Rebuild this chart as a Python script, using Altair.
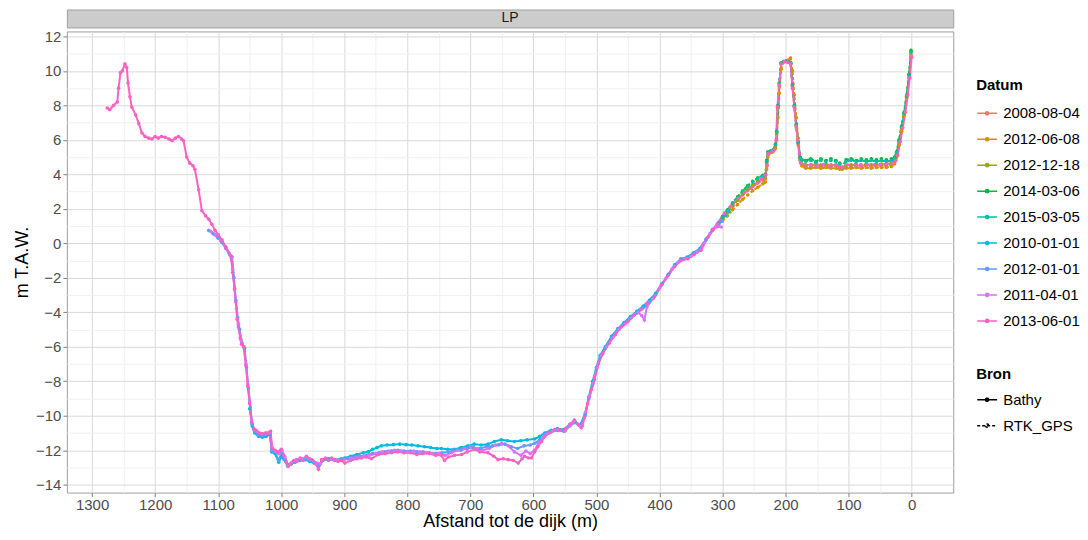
import altair as alt
import pandas as pd

PANEL = ["LP"]
DATES = ["2008-08-04", "2012-06-08", "2012-12-18", "2014-03-06", "2015-03-05",
         "2010-01-01", "2012-01-01", "2011-04-01", "2013-06-01"]
COLORS = ["#F8766D", "#D39200", "#93AA00", "#00BA38", "#00C19F",
          "#00B9E3", "#619CFF", "#DB72FB", "#FF61C3"]
SOURCES = ["Bathy", "RTK_GPS"]

# RTK_GPS surveys (dune / beach part)
RTK_D = [300, 292, 284, 276, 268, 260, 252, 244, 236, 232,
         230, 228, 224, 220, 216, 214, 212, 210, 207, 203,
         199, 195, 192, 189, 186, 183, 180, 177, 174, 168,
         160, 152, 144, 136, 128, 120, 114, 110, 104, 96,
         88, 80, 72, 64, 56, 48, 40, 32, 27, 24,
         20, 16, 12, 8, 4, 1]
V_2008_08_04 = [1.5, 1.85, 2.2, 2.5, 2.8, 3.05, 3.3, 3.5, 3.65, 3.75,
                4.6, 5.2, 5.3, 5.35, 5.6, 6.3, 7.8, 9.1, 10.4, 10.55,
                10.55, 10.5, 10.45, 9.1, 7.9, 6.7, 5.7, 4.8, 4.5, 4.45,
                4.45, 4.5, 4.45, 4.5, 4.45, 4.45, 4.4, 4.35, 4.4, 4.45,
                4.5, 4.45, 4.5, 4.45, 4.5, 4.5, 4.5, 4.55, 4.7, 5.1,
                5.8, 6.6, 7.4, 8.4, 9.6, 10.9]
V_2012_06_08 = [1.3, 1.6, 1.95, 2.25, 2.55, 2.8, 3.05, 3.25, 3.45, 3.55,
                4.3, 5.0, 5.25, 5.3, 5.5, 6.0, 7.3, 8.7, 10.1, 10.5,
                10.6, 10.65, 10.75, 10.0, 8.6, 7.3, 6.1, 5.0, 4.5, 4.35,
                4.35, 4.4, 4.35, 4.4, 4.35, 4.35, 4.3, 4.3, 4.35, 4.35,
                4.4, 4.35, 4.4, 4.35, 4.4, 4.4, 4.4, 4.45, 4.6, 5.0,
                5.7, 6.5, 7.4, 8.5, 9.8, 11.0]
V_2012_12_18 = [1.45, 1.8, 2.15, 2.5, 2.85, 3.15, 3.4, 3.6, 3.75, 3.85,
                4.7, 5.25, 5.3, 5.4, 5.7, 6.4, 7.9, 9.2, 10.45, 10.55,
                10.55, 10.5, 10.5, 9.2, 8.0, 6.8, 5.8, 4.9, 4.6, 4.55,
                4.55, 4.6, 4.55, 4.6, 4.55, 4.55, 4.5, 4.4, 4.5, 4.55,
                4.6, 4.55, 4.6, 4.55, 4.6, 4.6, 4.6, 4.65, 4.8, 5.2,
                5.9, 6.7, 7.5, 8.5, 9.7, 11.1]
V_2014_03_06 = [1.55, 1.95, 2.35, 2.7, 3.05, 3.35, 3.6, 3.8, 3.95, 4.0,
                4.8, 5.3, 5.35, 5.4, 5.75, 6.5, 8.0, 9.3, 10.45, 10.55,
                10.55, 10.5, 10.45, 9.2, 8.0, 6.9, 5.9, 5.0, 4.85, 4.8,
                4.9, 4.75, 4.9, 4.8, 4.9, 4.8, 4.65, 4.4, 4.85, 4.9,
                4.8, 4.9, 4.85, 4.9, 4.85, 4.9, 4.85, 4.9, 5.0, 5.3,
                6.0, 6.8, 7.6, 8.6, 9.8, 11.2]
V_2015_03_05 = [1.5, 1.9, 2.3, 2.65, 3.0, 3.3, 3.55, 3.75, 3.9, 3.95,
                4.75, 5.3, 5.35, 5.4, 5.7, 6.45, 7.95, 9.25, 10.45, 10.55,
                10.55, 10.5, 10.45, 9.15, 7.95, 6.85, 5.85, 4.95, 4.8, 4.75,
                4.8, 4.7, 4.8, 4.75, 4.8, 4.75, 4.6, 4.4, 4.75, 4.8,
                4.75, 4.8, 4.75, 4.8, 4.75, 4.8, 4.75, 4.8, 4.95, 5.25,
                5.95, 6.75, 7.55, 8.55, 9.75, 11.1]

# Bathymetry surveys
D_2010_01_01 = [1050, 1046, 1042, 1036, 1030, 1024, 1018, 1015, 1010, 1004, 1000, 995, 990, 984,
                978, 970, 962, 955, 948, 940, 934, 925, 915, 905, 899, 890, 880, 870, 862, 855,
                848, 841, 832, 822, 812, 802, 793, 783, 773, 763, 753, 746, 736, 725, 715, 704,
                694, 683, 672, 662, 651, 641, 630, 620, 610, 598, 590, 582, 572, 562, 552, 542,
                534, 526, 518, 512, 506, 500, 494, 486, 476, 466, 456, 446, 436, 426, 416, 406,
                396, 386, 376, 366, 356, 346, 336, 326, 316, 306, 296, 290]
V_2010_01_01 = [-9.6, -10.6, -11.0, -11.2, -11.25, -11.2, -11.1, -12.1, -12.2, -12.7, -12.4, -12.55, -12.9, -12.8,
                -12.7, -12.6, -12.55, -12.65, -12.75, -12.85, -12.55, -12.5, -12.55, -12.5, -12.45, -12.35, -12.25, -12.15, -12.1, -11.95,
                -11.85, -11.75, -11.7, -11.68, -11.65, -11.68, -11.7, -11.75, -11.8, -11.85, -11.9, -11.9, -11.95, -11.95, -11.85, -11.75,
                -11.65, -11.7, -11.65, -11.5, -11.4, -11.45, -11.5, -11.45, -11.4, -11.35, -11.2, -11.0, -10.85, -10.75, -10.8, -10.5,
                -10.35, -10.55, -9.9, -8.9, -8.0, -7.2, -6.5, -6.0, -5.4, -4.95, -4.6, -4.25, -3.95, -3.65, -3.3, -2.9,
                -2.35, -1.8, -1.25, -0.9, -0.8, -0.55, -0.3, 0.25, 0.8, 1.2, 1.6, 1.85]

D_2012_01_01 = [1115, 1108, 1100, 1094, 1088, 1082, 1078, 1075, 1072, 1069, 1066, 1062, 1058, 1055,
                1052, 1049, 1046, 1042, 1036, 1030, 1024, 1018, 1015, 1010, 1004, 1000, 995, 990,
                984, 978, 970, 962, 955, 948, 940, 934, 925, 915, 905, 895, 885, 875, 865, 855,
                845, 835, 825, 815, 805, 795, 785, 775, 765, 755, 745, 735, 725, 715, 705, 695,
                685, 675, 665, 655, 645, 635, 625, 615, 605, 598, 590, 582, 572, 562, 552, 542,
                534, 526, 518, 512, 506, 500, 494, 486, 476, 466, 456, 446, 436, 426, 416, 406,
                396, 386, 376, 366, 356, 346, 336, 326, 316, 306, 300]
V_2012_01_01 = [0.75, 0.55, 0.3, 0.05, -0.3, -0.65, -0.8, -2.0, -3.3, -4.3, -5.0, -5.8, -6.1, -7.2,
                -8.4, -9.5, -10.5, -10.9, -11.1, -11.15, -11.1, -11.05, -12.0, -12.1, -12.6, -12.2, -12.5, -12.85,
                -12.75, -12.65, -12.55, -12.5, -12.6, -12.7, -12.9, -12.6, -12.55, -12.6, -12.55, -12.5, -12.4, -12.35, -12.3, -12.2,
                -12.15, -12.1, -12.05, -12.0, -12.05, -12.05, -12.1, -12.1, -12.15, -12.2, -12.15, -12.1, -12.0, -12.0, -11.9, -11.85,
                -11.9, -11.8, -11.75, -11.7, -11.65, -11.8, -11.9, -11.75, -11.7, -11.6, -11.4, -11.1, -10.95, -10.85, -10.9, -10.6,
                -10.4, -10.6, -10.0, -9.0, -8.2, -7.3, -6.6, -6.1, -5.5, -5.0, -4.7, -4.35, -4.05, -3.75, -3.4, -3.0,
                -2.4, -1.85, -1.3, -0.95, -0.85, -0.6, -0.35, 0.2, 0.75, 1.1, 1.3]

D_2011_04_01 = [1112, 1104, 1096, 1088, 1081, 1077, 1074, 1071, 1068, 1064, 1060, 1056, 1053, 1050,
                1047, 1043, 1037, 1030, 1024, 1018, 1015, 1010, 1004, 999, 994, 989, 983, 976,
                968, 960, 952, 944, 938, 930, 920, 910, 900, 890, 880, 870, 860, 850, 840, 830,
                820, 810, 800, 790, 780, 770, 760, 750, 740, 730, 720, 710, 700, 690, 680, 670,
                660, 650, 640, 630, 620, 612, 605, 598, 592, 585, 578, 570, 560, 550, 542, 535,
                528, 522, 517, 511, 505, 499, 492, 484, 474, 464, 454, 444, 434, 428, 424, 420,
                410, 400, 390, 380, 370, 360, 350, 340, 330, 320, 310, 302]
V_2011_04_01 = [0.7, 0.5, 0.15, -0.25, -0.7, -1.5, -2.7, -3.8, -4.7, -5.6, -6.0, -7.0, -8.2, -9.2,
                -10.3, -10.8, -10.95, -11.05, -11.0, -10.95, -11.85, -12.05, -12.2, -12.0, -12.4, -12.9, -12.7, -12.55,
                -12.5, -12.4, -12.55, -12.75, -12.8, -12.45, -12.5, -12.6, -12.55, -12.45, -12.4, -12.35, -12.3, -12.2, -12.1, -12.05,
                -12.0, -12.05, -12.1, -12.05, -12.1, -12.15, -12.2, -12.2, -12.3, -12.15, -12.0, -11.9, -11.8, -11.9, -12.0, -11.9,
                -11.7, -11.6, -11.75, -12.1, -12.3, -12.05, -12.2, -12.0, -11.6, -11.3, -11.05, -10.9, -10.8, -10.9, -10.55, -10.3,
                -10.55, -10.6, -9.8, -8.9, -8.1, -7.2, -6.5, -6.0, -5.45, -5.0, -4.65, -4.3, -4.0, -4.2, -4.45, -3.7,
                -3.2, -2.6, -2.05, -1.5, -1.1, -0.9, -0.75, -0.5, 0.0, 0.55, 0.95, 0.95]

D_2013_06_01 = [1276, 1272, 1266, 1260, 1258, 1255, 1252, 1248, 1245, 1243, 1240, 1237, 1231, 1226,
                1221, 1216, 1210, 1205, 1200, 1195, 1190, 1184, 1178, 1173, 1168, 1163, 1158, 1155,
                1150, 1145, 1140, 1137, 1131, 1126, 1120, 1115, 1110, 1105, 1100, 1094, 1088, 1083,
                1079, 1077, 1074, 1072, 1070, 1068, 1065, 1063, 1059, 1056, 1053, 1050, 1047, 1044,
                1040, 1035, 1030, 1025, 1020, 1017, 1014, 1010, 1005, 1000, 996, 992, 989, 985,
                980, 975, 970, 965, 960, 955, 950, 945, 941, 936, 930, 925, 920, 915,
                910, 905, 899, 890, 880, 873, 865, 857, 846, 835, 825, 815, 805, 795,
                785, 775, 765, 755, 746, 741, 735, 725, 714, 705, 693, 685, 672, 663,
                656, 648, 640, 632, 624, 618, 614, 608, 603, 598, 593, 587, 582, 575,
                566, 558, 550, 542, 535, 529, 524, 519, 514, 508, 503, 497, 490, 480,
                470, 461, 450, 440, 429, 419, 408, 397, 387, 376, 366, 355, 345, 334,
                323, 315, 308, 297, 287, 275, 265, 255, 245, 238, 232, 229, 228, 222,
                218, 215, 213, 210, 207, 202, 197, 192, 189, 186, 183, 181, 178, 176,
                170, 160, 150, 140, 130, 120, 115, 110, 102, 90, 80, 70, 60, 50,
                40, 30, 25, 22, 18, 14, 10, 6, 3, 0]
V_2013_06_01 = [7.85, 7.75, 8.0, 8.2, 9.0, 9.9, 10.0, 10.4, 10.2, 9.3, 8.5, 7.9, 7.45, 6.95,
                6.4, 6.2, 6.1, 6.05, 6.2, 6.1, 6.2, 6.15, 6.05, 5.95, 6.1, 6.2, 6.05, 5.95,
                5.0, 4.65, 4.5, 4.3, 3.1, 1.9, 1.6, 1.4, 1.1, 0.75, 0.5, 0.2, -0.2, -0.55,
                -0.75, -1.7, -2.6, -3.4, -4.4, -4.85, -5.5, -5.85, -6.0, -7.1, -8.3, -9.3, -10.4, -10.75,
                -10.85, -11.0, -11.05, -11.0, -11.0, -10.9, -11.9, -12.0, -12.1, -11.95, -12.3, -12.7, -12.95, -12.8,
                -12.6, -12.65, -12.45, -12.6, -12.35, -12.5, -12.6, -12.8, -13.1, -12.55, -12.5, -12.6, -12.45, -12.55,
                -12.65, -12.6, -12.75, -12.6, -12.5, -12.45, -12.4, -12.5, -12.25, -12.2, -12.15, -12.1, -12.15, -12.15,
                -12.25, -12.2, -12.2, -12.3, -12.3, -12.6, -12.4, -12.3, -12.25, -12.1, -11.95, -12.1, -12.15, -12.35,
                -12.55, -12.5, -12.55, -12.6, -12.75, -12.5, -12.35, -12.45, -12.45, -12.1, -11.8, -11.5, -11.2, -11.0,
                -10.8, -10.85, -10.8, -10.5, -10.25, -10.5, -10.7, -10.1, -9.3, -8.5, -7.9, -7.0, -6.4, -5.8,
                -5.3, -4.85, -4.55, -4.15, -3.85, -3.5, -3.1, -2.4, -1.9, -1.35, -1.0, -0.9, -0.65, -0.4,
                0.35, 0.8, 1.15, 1.75, 2.15, 2.6, 2.95, 3.2, 3.5, 3.75, 3.95, 4.5, 5.2, 5.3,
                5.4, 6.0, 7.9, 9.2, 10.4, 10.55, 10.5, 10.4, 9.0, 7.9, 6.8, 6.0, 5.2, 4.65,
                4.55, 4.55, 4.5, 4.55, 4.5, 4.55, 4.45, 4.4, 4.55, 4.55, 4.5, 4.55, 4.55, 4.55,
                4.6, 4.65, 4.8, 5.1, 5.9, 6.7, 7.6, 8.6, 9.6, 10.8]

SERIES = [
    ("2008-08-04", "RTK_GPS", RTK_D, V_2008_08_04),
    ("2012-06-08", "RTK_GPS", RTK_D, V_2012_06_08),
    ("2012-12-18", "RTK_GPS", RTK_D, V_2012_12_18),
    ("2014-03-06", "RTK_GPS", RTK_D, V_2014_03_06),
    ("2015-03-05", "RTK_GPS", RTK_D, V_2015_03_05),
    ("2010-01-01", "Bathy", D_2010_01_01, V_2010_01_01),
    ("2012-01-01", "Bathy", D_2012_01_01, V_2012_01_01),
    ("2011-04-01", "Bathy", D_2011_04_01, V_2011_04_01),
    ("2013-06-01", "Bathy", D_2013_06_01, V_2013_06_01),
]

rows = []
for datum, bron, ds, vs in SERIES:
    for d, v in zip(ds, vs):
        rows.append({"Datum": datum, "Bron": bron, "d": d, "v": v})
df = pd.DataFrame(rows)

FONT = "Liberation Sans"
SYMBOL = "M-1,0L1,0M-0.16,0a0.16,0.16 0 1,0 0.32,0a0.16,0.16 0 1,0 -0.32,0"

x_axis = alt.Axis(
    values=list(range(0, 1301, 50)),
    labelExpr="datum.value % 100 === 0 ? datum.label : ''",
    gridColor={"condition": {"test": "datum.value % 100 === 0", "value": "#d9d9d9"}, "value": "#f0f0f0"},
    tickOpacity={"condition": {"test": "datum.value % 100 === 0", "value": 1}, "value": 0},
    format="d", labelPadding=1, titlePadding=0,
)
y_axis = alt.Axis(
    values=list(range(-14, 13, 1)),
    labelExpr="datum.value % 2 === 0 ? datum.label : ''",
    gridColor={"condition": {"test": "datum.value % 2 === 0", "value": "#d9d9d9"}, "value": "#f0f0f0"},
    tickOpacity={"condition": {"test": "datum.value % 2 === 0", "value": 1}, "value": 0},
    format="d", labelPadding=2, titlePadding=4,
)

X = alt.X("d:Q", title="Afstand tot de dijk (m)",
          scale=alt.Scale(domain=[-66, 1340], reverse=True, nice=False, zero=False), axis=x_axis)
Y = alt.Y("v:Q", title="m T.A.W.",
          scale=alt.Scale(domain=[-14.46, 12.29], nice=False, zero=False), axis=y_axis)
color_scale = alt.Scale(domain=DATES, range=COLORS)

base = alt.Chart(df)
lines = base.mark_line(strokeWidth=2, clip=True).encode(
    x=X, y=Y,
    color=alt.Color("Datum:N", scale=color_scale, sort=DATES,
                    legend=alt.Legend(title="Datum", orient="none", legendX=911, legendY=69,
                                      symbolType=SYMBOL, symbolSize=400, symbolStrokeWidth=1.5,
                                      labelFontSize=15, titleFontSize=15, rowPadding=7,
                                      labelOffset=5, titlePadding=9, labelFont=FONT, titleFont=FONT,
                                      labelColor="#000000")),
    strokeDash=alt.StrokeDash("Bron:N", scale=alt.Scale(domain=SOURCES, range=[[1, 0], [3, 2]]),
                              legend=alt.Legend(title="Bron", orient="none", legendX=911, legendY=358,
                                                symbolType=SYMBOL, symbolSize=400, symbolStrokeWidth=1.5,
                                                symbolStrokeColor="#000000",
                                                labelFontSize=15, titleFontSize=15, rowPadding=7,
                                                labelOffset=5, titlePadding=7, labelFont=FONT, titleFont=FONT,
                                                labelColor="#000000")),
)
points = base.mark_circle(size=13, opacity=1, clip=True).encode(
    x=X, y=Y,
    color=alt.Color("Datum:N", scale=color_scale, legend=None),
)
main = alt.layer(lines, points).properties(width=888, height=462)

strip = alt.Chart(pd.DataFrame({"panel": PANEL})).mark_text(
    fontSize=14, font=FONT, color="#1a1a1a"
).encode(
    text="panel:N", x=alt.value(444), y=alt.value(9)
).properties(width=888, height=18, view=alt.ViewBackground(fill="#cccccc", stroke="#a0a0a0"))

chart = alt.vconcat(strip, main, spacing=0).properties(
    padding={"left": 5, "top": 0, "right": 0, "bottom": 0}
).configure_view(stroke="#a0a0a0").configure_axis(
    labelFont=FONT, titleFont=FONT, labelFontSize=15, titleFontSize=18,
    labelColor="#4d4d4d", titleColor="#000000", titleFontWeight="normal",
    tickColor="#7f7f7f", tickSize=4, domain=False,
).configure_legend(titleFontWeight="bold")

chart.save("out.html", embed_options={"renderer": "svg", "actions": False})
